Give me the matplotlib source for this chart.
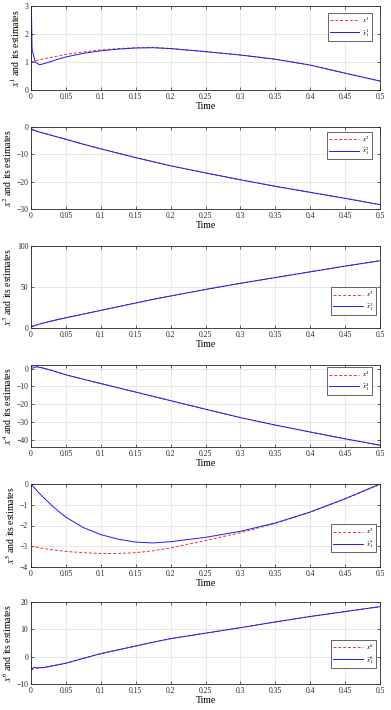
import matplotlib
matplotlib.use("Agg")
import matplotlib.pyplot as plt
from matplotlib.ticker import FormatStrFormatter

plt.rcParams["font.family"] = ["Liberation Serif", "DejaVu Serif"]
plt.rcParams["mathtext.fontset"] = "stix"

# common time grid (s)
T = [0, 0.01, 0.02, 0.03, 0.04, 0.05, 0.075, 0.1, 0.125, 0.15, 0.175,
     0.2, 0.25, 0.3, 0.35, 0.4, 0.45, 0.5]

# state 1
x1 = [1.0, 1.07, 1.12, 1.17, 1.22, 1.27, 1.36, 1.43, 1.48, 1.51, 1.52,
      1.48, 1.37, 1.25, 1.1, 0.89, 0.6, 0.32]
t1_hat = [0, 0.0003, 0.0015, 0.006, 0.012, 0.02, 0.03, 0.04, 0.05, 0.075,
          0.1, 0.125, 0.15, 0.175, 0.2, 0.25, 0.3, 0.35, 0.4, 0.45, 0.5]
x1_hat = [0, 3.5, 1.45, 1.0, 0.9, 0.95, 1.03, 1.11, 1.18, 1.31, 1.4, 1.46,
          1.5, 1.51, 1.48, 1.37, 1.25, 1.1, 0.89, 0.6, 0.32]

# state 2
x2 = [-1.0, -1.7, -2.4, -3.1, -3.8, -4.5, -6.3, -8.0, -9.6, -11.2, -12.7,
      -14.2, -16.8, -19.3, -21.7, -23.9, -26.1, -28.4]
x2_hat = [-0.6, -1.7, -2.4, -3.1, -3.8, -4.5, -6.3, -8.0, -9.6, -11.2, -12.7,
          -14.2, -16.8, -19.3, -21.7, -23.9, -26.1, -28.4]

# state 3
x3 = [2.0, 4.3, 6.5, 8.6, 10.6, 12.5, 17.0, 21.5, 26.0, 30.5, 35.0,
      39.0, 47.0, 54.5, 61.5, 68.5, 75.5, 82.0]
x3_hat = [1.0, 4.3, 6.5, 8.6, 10.6, 12.5, 17.0, 21.5, 26.0, 30.5, 35.0,
          39.0, 47.0, 54.5, 61.5, 68.5, 75.5, 82.0]

# state 4
x4 = [1.5, 1.0, 0.0, -1.1, -2.3, -3.5, -6.0, -8.4, -10.8, -13.2, -15.6,
      -18.0, -22.8, -27.5, -31.7, -35.6, -39.4, -43.0]
t4_hat = [0, 0.008, 0.015, 0.02, 0.03, 0.04, 0.05, 0.075, 0.1, 0.125, 0.15,
          0.175, 0.2, 0.25, 0.3, 0.35, 0.4, 0.45, 0.5]
x4_hat = [0.0, 1.0, 0.5, 0.0, -1.1, -2.3, -3.5, -6.0, -8.4, -10.8, -13.2,
          -15.6, -18.0, -22.8, -27.5, -31.7, -35.6, -39.4, -43.0]

# state 5
x5 = [-3.0, -3.06, -3.12, -3.17, -3.21, -3.25, -3.31, -3.35, -3.35, -3.31,
      -3.22, -3.08, -2.72, -2.35, -1.9, -1.36, -0.72, -0.02]
x5_hat = [0.0, -0.38, -0.72, -1.04, -1.33, -1.6, -2.1, -2.44, -2.66, -2.8,
          -2.84, -2.78, -2.57, -2.28, -1.88, -1.35, -0.71, 0.0]

# state 6
x6 = [-4.6, -4.3, -3.9, -3.4, -2.9, -2.4, -0.6, 1.1, 2.5, 3.9, 5.3,
      6.6, 8.6, 10.6, 12.7, 14.7, 16.5, 18.3]
t6_hat = [0, 0.0008, 0.004, 0.01, 0.02, 0.03, 0.04, 0.05, 0.075, 0.1, 0.125,
          0.15, 0.175, 0.2, 0.25, 0.3, 0.35, 0.4, 0.45, 0.5]
x6_hat = [-1.8, -4.8, -3.9, -4.1, -3.9, -3.4, -2.9, -2.4, -0.6, 1.1, 2.5,
          3.9, 5.3, 6.6, 8.6, 10.6, 12.7, 14.7, 16.5, 18.3]

panels = [
    (T, x1, t1_hat, x1_hat, (0, 3), [0, 1, 2, 3]),
    (T, x2, T, x2_hat, (-30, 0), [-30, -20, -10, 0]),
    (T, x3, T, x3_hat, (0, 100), [0, 50, 100]),
    (T, x4, t4_hat, x4_hat, (-44, 2), [-40, -30, -20, -10, 0]),
    (T, x5, T, x5_hat, (-4, 0), [-4, -3, -2, -1, 0]),
    (T, x6, t6_hat, x6_hat, (-10, 20), [-10, 0, 10, 20]),
]

# pixel extents (top, bottom) of each axes box and legend anchors
W, H = 391, 710
boxes = [(6, 90), (127, 209), (246, 328), (365, 447), (484, 567), (602, 684)]
legend_loc = [("upper right", (0.977, 0.92)), ("upper right", (0.977, 0.94)),
              ("lower right", (0.988, 0.16)), ("upper right", (0.977, 0.97)),
              ("lower right", (0.988, 0.18)), ("lower right", (0.988, 0.2))]

fig = plt.figure(figsize=(W / 100, H / 100), dpi=100)
xt = [0.05 * i for i in range(11)]

for i, (tr, xr, te, xe, ylim, yt) in enumerate(panels):
    top, bot = boxes[i]
    ax = fig.add_axes([31 / W, 1 - bot / H, 349 / W, (bot - top) / H])
    n = i + 1
    ax.plot(tr, xr, "--", color="#ff2a2a", lw=0.7, dashes=(3, 2),
            label=rf"$x^{n}$")
    ax.plot(te, xe, "-", color="#1a1aff", lw=0.7, label=rf"$\hat{{x}}_1^{n}$")
    ax.set_xlim(0, 0.5)
    ax.set_ylim(*ylim)
    ax.set_xticks(xt)
    ax.set_yticks(yt)
    ax.xaxis.set_major_formatter(FormatStrFormatter("%g"))
    ax.grid(True, color="0.88", lw=0.5)
    ax.tick_params(direction="in", length=2.5, width=0.5, labelsize=5.5,
                   top=True, right=True, pad=2, colors="0.15")
    for s in ax.spines.values():
        s.set_linewidth(0.6)
        s.set_color("0.15")
    ax.set_xlabel("Time", fontsize=7, labelpad=1)
    ax.set_ylabel(rf"$x^{n}$ and its estimates", fontsize=7, labelpad=2)
    loc, anchor = legend_loc[i]
    leg = ax.legend(loc=loc, bbox_to_anchor=anchor, fontsize=5, fancybox=False,
                    framealpha=1, edgecolor="0.15", handlelength=4.3,
                    borderaxespad=0, borderpad=0.3, labelspacing=0.3,
                    handletextpad=0.4)
    leg.get_frame().set_linewidth(0.5)

fig.savefig("out.png", dpi=100)
